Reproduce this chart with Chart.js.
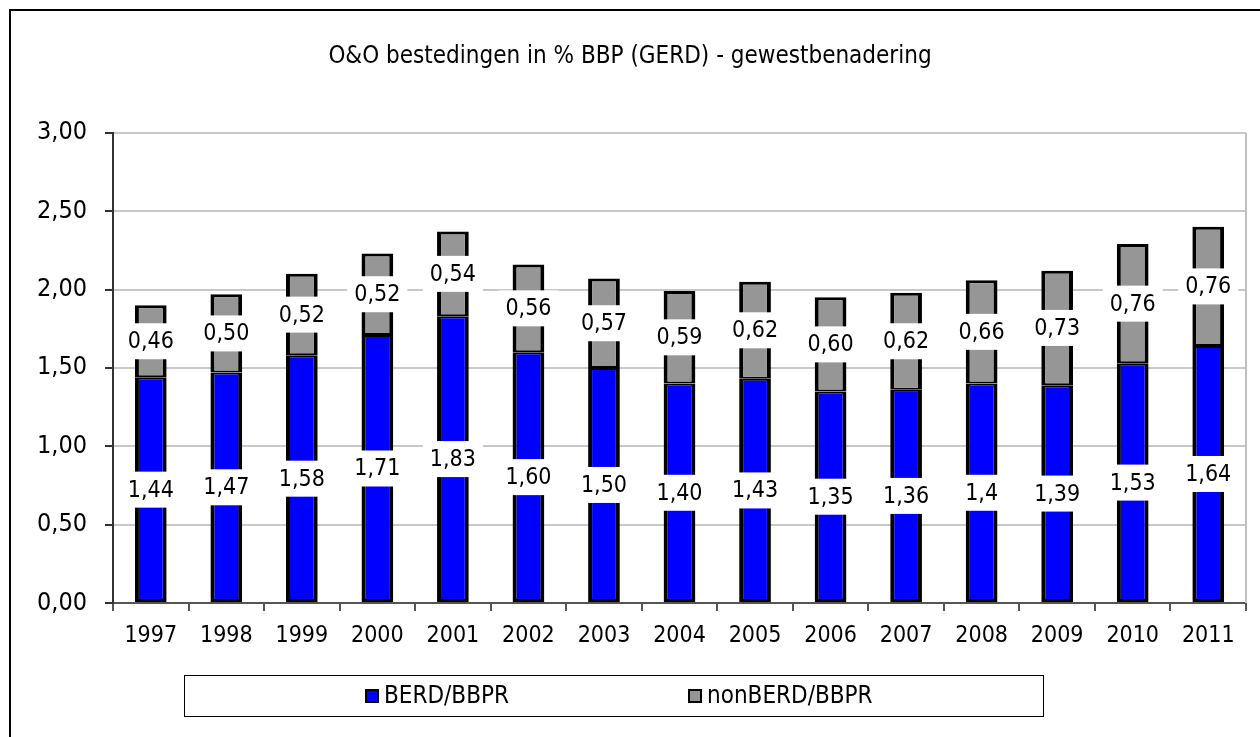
<!DOCTYPE html>
<html>
<head>
<meta charset="utf-8">
<script src="https://cdn.jsdelivr.net/npm/chart.js@4/dist/chart.umd.min.js"></script>
<style>
  html, body { margin: 0; padding: 0; background: #fff; }
  #wrap { width: 1260px; height: 737px; position: relative; }
</style>
</head>
<body>
<div id="wrap"><canvas id="chart" width="1260" height="737"></canvas></div>
<script>
const years = ['1997', '1998', '1999', '2000', '2001', '2002', '2003', '2004',
  '2005', '2006', '2007', '2008', '2009', '2010', '2011'];
// values as printed on the bars (2008 is shown as "1,4" in the source)
const berd = ['1.44', '1.47', '1.58', '1.71', '1.83', '1.60', '1.50', '1.40',
  '1.43', '1.35', '1.36', '1.4', '1.39', '1.53', '1.64'];
const nonBerd = ['0.46', '0.50', '0.52', '0.52', '0.54', '0.56', '0.57', '0.59',
  '0.62', '0.60', '0.62', '0.66', '0.73', '0.76', '0.76'];
const yTicks = [0, 0.5, 1, 1.5, 2, 2.5, 3];

const FONT = "'DejaVu Sans Condensed', 'DejaVu Sans', sans-serif";
const commaFmt = s => String(s).replace('.', ',');

// outer frame, plot right border, legend box
const framePlugin = {
  id: 'frame',
  beforeDraw(chart) {
    const ctx = chart.ctx;
    ctx.save();
    ctx.fillStyle = '#fff';
    ctx.fillRect(0, 0, chart.width, chart.height);
    ctx.fillStyle = '#000';
    ctx.fillRect(9, 9, 2, chart.height);
    ctx.fillRect(9, 9, chart.width, 2);
    ctx.restore();
  },
  beforeDatasetsDraw(chart) {
    const { ctx, chartArea } = chart;
    ctx.save();
    ctx.strokeStyle = '#c0c0c0';
    ctx.lineWidth = 2;
    ctx.beginPath();
    ctx.moveTo(chartArea.right, chartArea.top);
    ctx.lineTo(chartArea.right, chartArea.bottom);
    ctx.stroke();
    ctx.restore();
  },
  afterDraw(chart) {
    const ctx = chart.ctx;
    ctx.save();
    ctx.strokeStyle = '#000';
    ctx.lineWidth = 1;
    ctx.strokeRect(184.5, 675.5, 859, 41);
    const itemX = [365, 688];
    ctx.font = '24px ' + FONT;
    ctx.textBaseline = 'middle';
    chart.data.datasets.forEach((ds, i) => {
      const x = itemX[i];
      ctx.fillStyle = ds.backgroundColor;
      ctx.fillRect(x, 689, 14, 14);
      ctx.lineWidth = 2;
      ctx.strokeStyle = '#000';
      ctx.strokeRect(x + 1, 690, 12, 12);
      ctx.fillStyle = '#000';
      ctx.fillText(ds.label, x + 19, 697);
    });
    ctx.restore();
  }
};

// value labels with white boxes in the middle of each segment
const labelPlugin = {
  id: 'segLabels',
  afterDatasetsDraw(chart) {
    const ctx = chart.ctx;
    const src = [berd, nonBerd];
    ctx.save();
    ctx.font = '23px ' + FONT;
    ctx.textAlign = 'center';
    ctx.textBaseline = 'middle';
    chart.data.datasets.forEach((ds, di) => {
      const meta = chart.getDatasetMeta(di);
      meta.data.forEach((bar, i) => {
        const txt = commaFmt(src[di][i]);
        const cy = (bar.y + bar.base) / 2;
        const w = ctx.measureText(txt).width + 14;
        const h = 36;
        ctx.fillStyle = '#fff';
        ctx.fillRect(bar.x - w / 2, cy - h / 2, w, h);
        ctx.fillStyle = '#000';
        ctx.fillText(txt, bar.x, cy + 1);
      });
    });
    ctx.restore();
  }
};

new Chart(document.getElementById('chart'), {
  type: 'bar',
  data: {
    labels: years,
    datasets: [
      {
        label: 'BERD/BBPR',
        data: berd.map(Number),
        backgroundColor: '#0000ff',
        borderColor: '#000',
        borderWidth: { left: 4, right: 4, bottom: 3, top: 2 },
        borderSkipped: false,
        inflateAmount: 0
      },
      {
        label: 'nonBERD/BBPR',
        data: nonBerd.map(Number),
        backgroundColor: '#969696',
        borderColor: '#000',
        borderWidth: { left: 4, right: 4, bottom: 2, top: 3 },
        borderSkipped: false,
        inflateAmount: 0
      }
    ]
  },
  options: {
    responsive: false,
    animation: false,
    devicePixelRatio: 1,
    layout: { padding: { left: 14, right: 14, top: 0, bottom: 94 } },
    datasets: { bar: { categoryPercentage: 1, barPercentage: 0.42 } },
    plugins: {
      legend: { display: false },
      tooltip: { enabled: false },
      title: {
        display: true,
        text: 'O&O bestedingen in % BBP (GERD) - gewestbenadering',
        color: '#000',
        font: { family: FONT, size: 24, weight: 'normal' },
        padding: { top: 42, bottom: 62 }
      }
    },
    scales: {
      x: {
        stacked: true,
        grid: {
          offset: true,
          drawOnChartArea: false,
          drawTicks: true,
          tickLength: 8,
          tickColor: '#555',
          lineWidth: 2
        },
        border: { display: true, color: '#555', width: 2 },
        ticks: {
          color: '#000',
          padding: 11,
          maxRotation: 0,
          font: { family: FONT, size: 23 }
        },
        afterFit(scale) { scale.height = 40; }
      },
      y: {
        stacked: true,
        min: 0,
        max: 3,
        afterBuildTicks(scale) { scale.ticks = yTicks.map(v => ({ value: v })); },
        grid: {
          color: '#c8c8c8',
          lineWidth: 2,
          drawTicks: true,
          tickLength: 8,
          tickColor: '#333'
        },
        border: { display: true, color: '#333', width: 2 },
        ticks: {
          color: '#000',
          padding: 18,
          font: { family: FONT, size: 25 },
          callback: v => commaFmt(v.toFixed(2))
        },
        afterFit(scale) { scale.width = 99; }
      }
    }
  },
  plugins: [framePlugin, labelPlugin]
});
</script>
</body>
</html>
